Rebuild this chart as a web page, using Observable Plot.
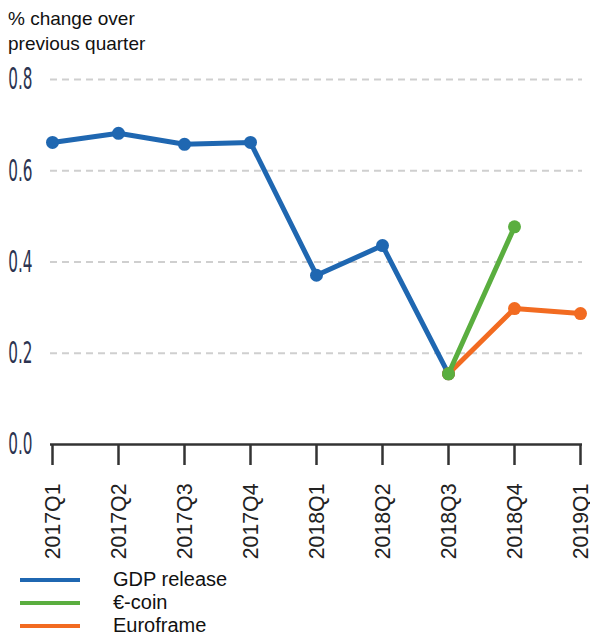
<!DOCTYPE html>
<html>
<head>
<meta charset="utf-8">
<script src="https://cdn.jsdelivr.net/npm/d3@7"></script>
<script src="https://cdn.jsdelivr.net/npm/@observablehq/plot@0.6"></script>
<style>
  body { margin: 0; background: #fff; font-family: "Liberation Sans", Arial, sans-serif; }
  #wrap { width: 590px; height: 637px; }
  #title { padding: 6px 0 0 8px; height: 52px; box-sizing: border-box; font-size: 19px; line-height: 25px; color: #111; }
  #chart { height: 510px; }
  #chart svg { display: block; }
  #legend { font-size: 20px; padding-top: 6px; }
  .li { display: flex; align-items: center; height: 23px; }
  .sw { margin-left: 20px; width: 60px; height: 4px; }
  .lt { margin-left: 33px; color: #111; line-height: 23px; }
</style>
</head>
<body>
<div id="wrap">
  <div id="title">% change over<br>previous quarter</div>
  <div id="chart"></div>
  <div id="legend"></div>
</div>
<script>
const quarters = ["2017Q1","2017Q2","2017Q3","2017Q4","2018Q1","2018Q2","2018Q3","2018Q4","2019Q1"];
const gdpQuarters = ["2017Q1","2017Q2","2017Q3","2017Q4","2018Q1","2018Q2","2018Q3"];
const gdpValues = [0.662, 0.682, 0.658, 0.662, 0.371, 0.436, 0.155];
const ecoinQuarters = ["2018Q3","2018Q4"];
const ecoinValues = [0.155, 0.477];
const euroframeQuarters = ["2018Q3","2018Q4","2019Q1"];
const euroframeValues = [0.155, 0.298, 0.287];
const yTicks = [0, 0.2, 0.4, 0.6, 0.8];
const gridTicks = [0.2, 0.4, 0.6, 0.8];

const seriesNames = ["GDP release", "€-coin", "Euroframe"];
const seriesColors = ["#1f67b1", "#5aae3f", "#f26b21"];

const toRows = (qs, vs) => qs.map((q, i) => ({q, v: vs[i]}));
const gdp = toRows(gdpQuarters, gdpValues);
const ecoin = toRows(ecoinQuarters, ecoinValues);
const euroframe = toRows(euroframeQuarters, euroframeValues);
const fmt = d3.format(".1f");

const chart = Plot.plot({
  width: 590,
  height: 510,
  marginLeft: 50,
  marginRight: 8,
  marginTop: 27,
  marginBottom: 118,
  style: { fontFamily: "Liberation Sans, Arial, sans-serif", background: "transparent" },
  x: { type: "point", domain: quarters, padding: 0, axis: null },
  y: { domain: [0, 0.8], axis: null },
  marks: [
    Plot.ruleY(gridTicks, { stroke: "#cfcfcf", strokeWidth: 2, strokeDasharray: "7,5" }),
    Plot.ruleY([0], { stroke: "#333", strokeWidth: 2.5 }),
    Plot.axisX({ tickSize: 21, tickFormat: () => "", stroke: "#333", strokeWidth: 2.5, label: null }),
    Plot.text(quarters, { x: d => d, frameAnchor: "bottom", dy: 39, rotate: -90, textAnchor: "end",
      lineAnchor: "middle", fontSize: 15, fill: "#222", fontFamily: "Liberation Sans, Arial, sans-serif" }),
    Plot.text(yTicks, { y: d => d, text: d => fmt(d), frameAnchor: "left", dx: -18, textAnchor: "end",
      fontSize: 17, fill: "#2c3450", fontFamily: "Liberation Sans Narrow, DejaVu Sans Condensed, sans-serif" }),
    Plot.line(gdp, { x: "q", y: "v", stroke: seriesColors[0], strokeWidth: 5 }),
    Plot.dot(gdp, { x: "q", y: "v", fill: seriesColors[0], r: 6.5 }),
    Plot.line(euroframe, { x: "q", y: "v", stroke: seriesColors[2], strokeWidth: 5 }),
    Plot.dot(euroframe, { x: "q", y: "v", fill: seriesColors[2], r: 6.5 }),
    Plot.line(ecoin, { x: "q", y: "v", stroke: seriesColors[1], strokeWidth: 5 }),
    Plot.dot(ecoin, { x: "q", y: "v", fill: seriesColors[1], r: 6.5 })
  ]
});
document.getElementById("chart").appendChild(chart);

// The rendered tick text stays at 10px here, so enlarge the labels around their own anchor (end, middle).
try {
  const yLabels = yTicks.map(fmt);
  d3.select(chart).selectAll("text").each(function () {
    const t = this.textContent.trim();
    let sx, sy;
    if (quarters.includes(t)) { sx = 1.42; sy = 1.5; }
    else if (yLabels.includes(t)) { sx = 1.0; sy = 1.75; }
    else return;
    const b = this.getBBox();
    const px = b.x + b.width;
    const py = b.y + b.height / 2;
    const T = this.getAttribute("transform") || "";
    this.setAttribute("transform",
      `${T} translate(${px},${py}) scale(${sx},${sy}) translate(${-px},${-py})`.trim());
  });
} catch (e) {}

const legend = document.getElementById("legend");
seriesNames.forEach((n, i) => {
  const d = document.createElement("div");
  d.className = "li";
  d.innerHTML = `<div class="sw" style="background:${seriesColors[i]}"></div><div class="lt">${n}</div>`;
  legend.appendChild(d);
});
</script>
</body>
</html>
